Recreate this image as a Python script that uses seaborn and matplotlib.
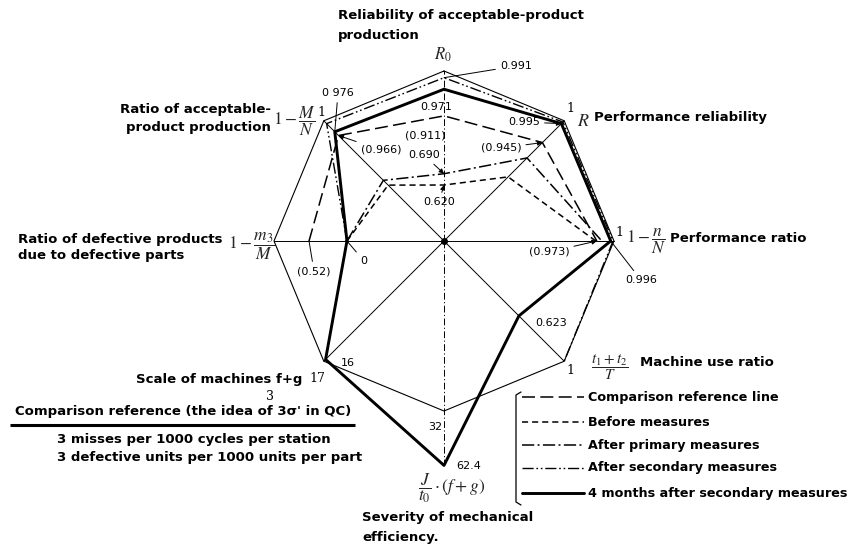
import numpy as np
import pandas as pd
import matplotlib
matplotlib.use("Agg")
import matplotlib.pyplot as plt
import seaborn as sns

W, H, DPI = 854, 545, 100

# ------------------------------------------------------------------ axes
# eight evaluation axes, counter-clockwise starting at the top
axis_keys = ["R0", "1-M/N", "1-m3/M", "f+g", "J", "t/T", "1-n/N", "R"]
axis_angle_deg = [90, 135, 180, 225, 270, 315, 0, 45]


def reliability_scale(v):
    # stretched scale: values near 1 are spread out toward the rim
    return np.exp(-2.62 * (1.0 - np.asarray(v, float)) ** 0.887)


def linear_scale(lo, hi):
    return lambda v: (np.asarray(v, float) - lo) / (hi - lo)


axis_scale = {
    "R0": reliability_scale,
    "1-M/N": reliability_scale,
    "R": reliability_scale,
    "1-n/N": reliability_scale,
    "1-m3/M": linear_scale(-1.33, 1.0),
    "f+g": linear_scale(-50.0, 17.0),
    "J": linear_scale(-63.0, 32.0),
    "t/T": linear_scale(0.0, 1.0),
}
axis_angle = dict(zip(axis_keys, np.deg2rad(axis_angle_deg)))

# ------------------------------------------------------------------ data
scale_axes = ["R0", "1-M/N", "1-m3/M", "f+g", "J", "t/T", "1-n/N", "R", "R0"]
scale_vals = [1, 1, 1, 17, 32, 1, 1, 1, 1]

upper_axes = ["1-m3/M", "1-M/N", "R0", "R", "1-n/N"]
comparison_vals = [0.52, 0.966, 0.911, 0.945, 0.973]
before_vals = [0.0, 0.75, 0.620, 0.80, 0.971]
primary_vals = [0.0, 0.78, 0.690, 0.89, 0.982]

secondary_axes = ["1-m3/M", "1-M/N", "R0", "R", "1-n/N", "t/T"]
secondary_vals = [0.0, 0.995, 0.991, 0.998, 0.999, 1.0]

months4_axes = ["1-m3/M", "1-M/N", "R0", "R", "1-n/N", "t/T", "J", "f+g", "1-m3/M"]
months4_vals = [0.0, 0.976, 0.971, 0.995, 0.996, 0.623, 62.4, 16, 0.0]

legend_names = [
    "Comparison reference line",
    "Before measures",
    "After primary measures",
    "After secondary measures",
    "4 months after secondary measures",
]

series = [
    ("scale", scale_axes, scale_vals),
    (legend_names[0], upper_axes, comparison_vals),
    (legend_names[1], upper_axes, before_vals),
    (legend_names[2], upper_axes, primary_vals),
    (legend_names[3], secondary_axes, secondary_vals),
    (legend_names[4], months4_axes, months4_vals),
]

dash_map = {
    "scale": "",
    legend_names[0]: (8.5, 3.5),
    legend_names[1]: (4.0, 2.6),
    legend_names[2]: (8.0, 2.2, 1.3, 2.2),
    legend_names[3]: (8.0, 2.0, 1.2, 2.0, 1.2, 2.0),
    legend_names[4]: "",
}
size_map = {
    "scale": 0.8,
    legend_names[0]: 1.1,
    legend_names[1]: 1.1,
    legend_names[2]: 1.1,
    legend_names[3]: 1.0,
    legend_names[4]: 2.1,
}


def radius(key, value):
    return float(axis_scale[key](value))


rows = []
for name, keys, vals in series:
    for step, (k, v) in enumerate(zip(keys, vals)):
        rows.append({"series": name, "step": step,
                     "theta": axis_angle[k], "r": radius(k, v)})
df = pd.DataFrame(rows)

# ------------------------------------------------------------------ figure
sns.set_theme(style="white")
plt.rcParams["font.family"] = ["DejaVu Sans"]
plt.rcParams["mathtext.fontset"] = "stix"

fig = plt.figure(figsize=(W / DPI, H / DPI), dpi=DPI)
fig.patch.set_facecolor("white")

cx, cy, unit, rlim = 444, 241, 170, 1.4
half = unit * rlim
ax = fig.add_axes([(cx - half) / W, (H - cy - half) / H, 2 * half / W, 2 * half / H],
                  projection="polar")
ax.set_facecolor("none")

order = ["scale"] + legend_names
sns.lineplot(data=df, x="theta", y="r", style="series", size="series",
             style_order=order, size_order=order,
             dashes=dash_map, sizes=size_map, sort=False, estimator=None,
             color="black", legend=False, ax=ax)

# spokes of the diagram
for k in axis_keys:
    th = axis_angle[k]
    if k in ("R0", "J"):
        continue
    ax.plot([th, th], [0, radius(k, scale_vals[scale_axes.index(k)])],
            color="black", lw=0.7)
ax.plot([axis_angle["R0"]] * 2, [0, radius("R0", 1)], color="black", lw=0.7,
        ls=(0, (7, 2.5, 1.2, 2.5)))
ax.plot([axis_angle["J"]] * 2, [0, radius("J", max(months4_vals))], color="black",
        lw=0.7, ls=(0, (7, 2.5, 1.2, 2.5)))
ax.plot([0], [0], "o", color="black", ms=4)

ax.set_ylim(0, rlim)
ax.set_xticks([])
ax.set_yticks([])
ax.grid(False)
ax.spines["polar"].set_visible(False)
ax.set_xlabel("")
ax.set_ylabel("")

# overlay in pixel units for labels and the legend
ov = fig.add_axes([0, 0, 1, 1])
ov.set_xlim(0, W)
ov.set_ylim(H, 0)
ov.axis("off")

bold = dict(fontsize=9.5, fontweight="bold", color="black")
legend_font = dict(fontsize=9.2, fontweight="bold", color="black")
num = dict(fontsize=8, color="black")
serif = dict(fontsize=9, family="DejaVu Serif", color="black")
mathfs = 12.5

# axis titles
ov.text(338, 15, "Reliability of acceptable-product", ha="left", va="center", **bold)
ov.text(338, 36, "production", ha="left", va="center", **bold)
ov.text(443, 55, r"$R_0$", ha="center", va="center", fontsize=12)

ov.text(271, 110, "Ratio of acceptable-", ha="right", va="center", **bold)
ov.text(271, 128, "product production", ha="right", va="center", **bold)
ov.text(294, 121, r"$1-\dfrac{M}{N}$", ha="center", va="center", fontsize=mathfs)
ov.text(321, 113, "1", ha="center", va="center", **serif)

ov.text(18, 240, "Ratio of defective products", ha="left", va="center", **bold)
ov.text(18, 255, "due to defective parts", ha="left", va="center", **bold)
ov.text(252, 246, r"$1-\dfrac{m_3}{M}$", ha="center", va="center", fontsize=mathfs)

ov.text(302, 380, "Scale of machines f+g", ha="right", va="center", **bold)
ov.text(317, 378, "17", ha="center", va="center", **serif)
ov.text(270, 397, "3", ha="center", va="center", **serif)
ov.text(183, 412, "Comparison reference (the idea of 3\u03c3' in QC)", ha="center",
        va="center", **bold)
ov.plot([10, 355], [425, 425], color="black", lw=2.2, solid_capstyle="butt")
ov.text(57, 440, "3 misses per 1000 cycles per station", ha="left", va="center", **bold)
ov.text(57, 458, "3 defective units per 1000 units per part", ha="left", va="center",
        **bold)

ov.text(452, 488, r"$\dfrac{J}{t_0}\cdot(f+g)$", ha="center", va="center",
        fontsize=mathfs)
ov.text(362, 517, "Severity of mechanical", ha="left", va="center", **bold)
ov.text(362, 537, "efficiency.", ha="left", va="center", **bold)

ov.text(570, 108, "1", ha="center", va="center", **serif)
ov.text(583, 121, r"$R$", ha="center", va="center", fontsize=13)
ov.text(594, 118, "Performance reliability", ha="left", va="center", **bold)

ov.text(619, 232, "1", ha="center", va="center", **serif)
ov.text(646, 241, r"$1-\dfrac{n}{N}$", ha="center", va="center", fontsize=mathfs)
ov.text(670, 238, "Performance ratio", ha="left", va="center", **bold)

ov.text(570, 371, "1", ha="center", va="center", **serif)
ov.text(610, 367, r"$\dfrac{t_1+t_2}{T}$", ha="center", va="center", fontsize=11)
ov.text(640, 363, "Machine use ratio", ha="left", va="center", **bold)

# value labels
plain = dict(arrowstyle="-", lw=0.7, color="black", shrinkA=1, shrinkB=0)
head = dict(arrowstyle="-|>", lw=0.7, color="black", mutation_scale=7,
            shrinkA=1, shrinkB=0)


def label(text, key, value, xy_px, arrow=None, ha="center"):
    if arrow is None:
        ov.text(*xy_px, text, ha=ha, va="center", **num)
    else:
        ax.annotate(text, xy=(axis_angle[key], radius(key, value)), xytext=xy_px,
                    textcoords=ov.transData, ha=ha, va="center",
                    arrowprops=arrow, **num)


label("0.991", "R0", 0.991, (500, 66), plain, ha="left")
label("0 976", "1-M/N", 0.976, (338, 93), plain)
label("0.971", "R0", 0.971, (436, 107))
label("(0.911)", "R0", 0.911, (425, 135))
label("(0.966)", "1-M/N", 0.966, (381, 150), head)
label("0.690", "R0", 0.690, (424, 155), head)
label("0.620", "R0", 0.620, (439, 202), head)
label("0.995", "R", 0.995, (524, 122), head)
label("(0.945)", "R", 0.945, (501, 148), head)
label("(0.973)", "1-n/N", 0.973, (549, 252), head)
label("0.996", "1-n/N", 0.996, (641, 280), plain)
label("0.623", "t/T", 0.623, (551, 323))
label("(0.52)", "1-m3/M", 0.52, (314, 271), plain)
label("0", "1-m3/M", 0.0, (364, 261), plain)
label("16", "f+g", 16, (348, 363))
label("32", "J", 32, (435, 427))
label("62.4", "J", 62.4, (469, 466))

# legend with bracket
ov.plot([521, 516, 516, 521], [392, 395, 502, 505], color="black", lw=0.9)
leg_y = [397, 422, 445, 468, 493]
for name, y in zip(legend_names, leg_y):
    ls = dash_map[name]
    line, = ov.plot([522, 584], [y, y], color="black", lw=size_map[name])
    if ls != "":
        line.set_dashes(ls)
    ov.text(588, y, name, ha="left", va="center", **legend_font)

fig.savefig("out.png", dpi=DPI, facecolor="white")
